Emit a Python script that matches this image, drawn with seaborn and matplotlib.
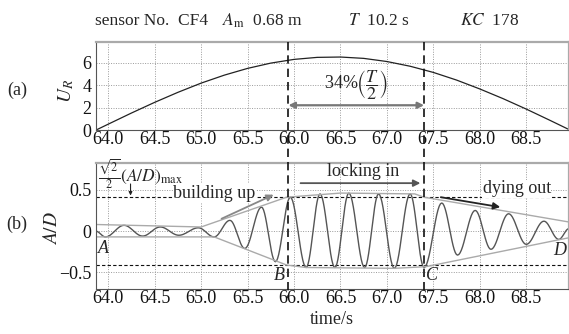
import numpy as np
import pandas as pd
import matplotlib
matplotlib.use("Agg")
import matplotlib.pyplot as plt
import seaborn as sns
from matplotlib.lines import Line2D
from matplotlib.transforms import blended_transform_factory

# ---------------- data ----------------
# (a) reduced velocity U_R over time
ur_time = [63.87, 63.9, 64.0, 64.25, 64.5, 64.75, 65.0, 65.25, 65.5, 65.75, 66.0,
           66.25, 66.5, 66.75, 67.0, 67.25, 67.5, 67.75, 68.0, 68.25, 68.5,
           68.75, 68.97]
ur_value = [0.0, 0.12, 0.52, 1.51, 2.46, 3.35, 4.17, 4.88, 5.48, 5.95, 6.28,
            6.46, 6.49, 6.37, 6.09, 5.67, 5.12, 4.44, 3.65, 2.79, 1.86,
            0.88, 0.0]

# (b) A/D response: successive peaks and troughs
ad_time = [63.865, 63.97, 64.17, 64.37, 64.56, 64.76, 64.97, 65.14, 65.31, 65.47,
           65.65, 65.80, 65.96, 66.13, 66.28, 66.44, 66.59, 66.76, 66.91, 67.08,
           67.25, 67.40, 67.59, 67.76, 67.95, 68.12, 68.31, 68.50, 68.69, 68.85,
           68.96]
ad_value = [0.00, -0.07, 0.07, -0.06, 0.05, -0.05, 0.04, -0.07, 0.13, -0.21,
            0.29, -0.37, 0.41, -0.44, 0.45, -0.44, 0.46, -0.44, 0.45, -0.45,
            0.45, -0.44, 0.34, -0.29, 0.25, -0.22, 0.21, -0.16, 0.12, -0.10,
            0.03]

# envelopes
env_up_time = [63.865, 65.0, 65.92, 66.5, 67.3, 67.40, 68.96]
env_up_value = [0.08, 0.05, 0.41, 0.46, 0.45, 0.41, 0.11]
env_lo_time = [63.865, 65.14, 65.92, 66.13, 67.08, 67.42, 68.96]
env_lo_value = [-0.07, -0.07, -0.41, -0.44, -0.45, -0.43, -0.08]

phase_bounds = [65.94, 67.40]          # B and C instants
level_sqrt2 = 0.41                     # sqrt(2)/2 (A/D)max

ur_ticks = [0, 2, 4, 6]
ad_ticks = [-0.5, 0, 0.5]
ad_ticklabels = ["\u22120.5", "0", "0.5"]
time_ticks = [64.0, 64.5, 65.0, 65.5, 66.0, 66.5, 67.0, 67.5, 68.0, 68.5]

# ---------------- styling ----------------
sns.set_theme(style="white")
plt.rcParams["font.family"] = ["Liberation Serif", "DejaVu Serif"]
plt.rcParams["mathtext.fontset"] = "stix"

W, H = 569, 334
fig = plt.figure(figsize=(W / 100, H / 100), dpi=100)


def fx(px):
    return px / W


def fy(py):
    return 1 - py / H


xl = (63.865, 68.96)
ax1 = fig.add_axes([fx(95.7), fy(130), fx(569 - 95.7), (130 - 42.3) / H])
ax2 = fig.add_axes([fx(95.7), fy(289), fx(569 - 95.7), (289 - 163.3) / H])


def smooth_through(t, v, n=14):
    xs, ys = [], []
    for i in range(len(t) - 1):
        f = np.linspace(0, 1, n, endpoint=False)
        xs.append(t[i] + (t[i + 1] - t[i]) * f)
        ys.append(v[i] + (v[i + 1] - v[i]) * (1 - np.cos(np.pi * f)) / 2)
    xs.append([t[-1]])
    ys.append([v[-1]])
    return np.concatenate(xs), np.concatenate(ys)


grid_kw = dict(color="#9a9a9a", lw=0.7, ls=(0, (1, 1.5)), zorder=0)
FS = 13

# ---- panel (a) ----
df_ur = pd.DataFrame({"t": ur_time, "U": ur_value})
sns.lineplot(data=df_ur, x="t", y="U", ax=ax1, color="#222222", lw=0.9,
             estimator=None, sort=False)
ax1.set_xlim(*xl)
ax1.set_ylim(0, 7.8)
ax1.set_xticks(time_ticks)
ax1.set_xticklabels([f"{v:.1f}" for v in time_ticks])
ax1.set_yticks(ur_ticks)
for v in time_ticks:
    ax1.axvline(v, **grid_kw)
for v in ur_ticks[1:]:
    ax1.axhline(v, **grid_kw)
ax1.set_xlabel("")
ax1.set_ylabel("")
ax1.annotate("", xy=(phase_bounds[0], 2.2), xytext=(phase_bounds[1], 2.2),
             arrowprops=dict(arrowstyle="<|-|>", color="#777777", lw=1.6,
                             mutation_scale=9, shrinkA=0, shrinkB=0))
ax1.text(66.66, 4.0, r"34%$\left(\dfrac{T}{2}\right)$", ha="center",
         va="center", fontsize=FS)

# ---- panel (b) ----
sx, sy = smooth_through(ad_time, ad_value)
df_ad = pd.DataFrame({"t": sx, "AD": sy})
sns.lineplot(data=df_ad, x="t", y="AD", ax=ax2, color="#555555", lw=1.0,
             estimator=None, sort=False)
df_up = pd.DataFrame({"t": env_up_time, "v": env_up_value})
df_lo = pd.DataFrame({"t": env_lo_time, "v": env_lo_value})
sns.lineplot(data=df_up, x="t", y="v", ax=ax2, color="#aaaaaa", lw=1.0,
             estimator=None, sort=False)
sns.lineplot(data=df_lo, x="t", y="v", ax=ax2, color="#aaaaaa", lw=1.0,
             estimator=None, sort=False)
ax2.set_xlim(*xl)
ax2.set_ylim(-0.70, 0.82)
ax2.set_xticks(time_ticks)
ax2.set_xticklabels([f"{v:.1f}" for v in time_ticks])
ax2.set_yticks(ad_ticks)
ax2.set_yticklabels(ad_ticklabels)
for v in time_ticks:
    ax2.axvline(v, **grid_kw)
for v in ad_ticks:
    ax2.axhline(v, **grid_kw)
for v in (level_sqrt2, -level_sqrt2):
    ax2.axhline(v, color="#111111", lw=0.8, ls=(0, (3, 2)), zorder=1)
ax2.set_xlabel("")
ax2.set_ylabel("")

ax2.text(66.74, 0.72, "locking in", ha="center", va="center", fontsize=FS)
ax2.annotate("", xy=(67.36, 0.58), xytext=(66.07, 0.58),
             arrowprops=dict(arrowstyle="-|>", color="#555555", lw=1.3,
                             mutation_scale=10, shrinkA=0, shrinkB=0))
ax2.text(65.14, 0.46, "building up", ha="center", va="center", fontsize=FS,
         bbox=dict(facecolor="white", edgecolor="none", pad=0.2))
ax2.annotate("", xy=(65.78, 0.44), xytext=(65.22, 0.15),
             arrowprops=dict(arrowstyle="-|>", color="#888888", lw=1.3,
                             mutation_scale=10, shrinkA=0, shrinkB=0))
ax2.text(68.40, 0.51, "dying out", ha="center", va="center", fontsize=FS,
         bbox=dict(facecolor="white", edgecolor="none", pad=0.2))
ax2.annotate("", xy=(68.22, 0.29), xytext=(67.58, 0.41),
             arrowprops=dict(arrowstyle="-|>", color="#222222", lw=1.3,
                             mutation_scale=10, shrinkA=0, shrinkB=0))
ax2.text(63.89, 0.69, r"$\frac{\sqrt{2}}{2}(A/D)_{\rm max}$", ha="left",
         va="center", fontsize=12.5)
ax2.annotate("", xy=(64.24, 0.43), xytext=(64.24, 0.57),
             arrowprops=dict(arrowstyle="-|>", color="#222222", lw=0.8,
                             mutation_scale=5, shrinkA=0, shrinkB=0))
for lab, t, v in [("A", 63.95, -0.21), ("B", 65.84, -0.54),
                  ("C", 67.49, -0.54), ("D", 68.86, -0.24)]:
    ax2.text(t, v, lab, ha="center", va="center", fontsize=FS,
             style="italic")

for ax in (ax1, ax2):
    ax.tick_params(axis="x", labelsize=13, length=0, pad=0.5,
                   colors="#111111")
    ax.tick_params(axis="y", labelsize=13, length=0, pad=3,
                   colors="#111111")
    for s in ("left", "bottom"):
        ax.spines[s].set_color("#555555")
        ax.spines[s].set_linewidth(0.8)
    for s in ("top", "right"):
        ax.spines[s].set_color("#aaaaaa")
        ax.spines[s].set_linewidth(1.6)

# vertical dashed lines spanning both panels
trans = blended_transform_factory(ax1.transData, fig.transFigure)
for t in phase_bounds:
    fig.add_artist(Line2D([t, t], [fy(42.3), fy(298)], transform=trans,
                          color="#111111", lw=1.2, ls=(0, (5, 3))))

# figure-level text
TY = 21
fig.text(fx(95), fy(TY), "sensor No.  CF4", ha="left", va="center",
         fontsize=12.5)
fig.text(fx(222), fy(TY), r"$A_{\rm m}$  0.68 m", ha="left", va="center",
         fontsize=12.5)
fig.text(fx(348), fy(TY), r"$T$  10.2 s", ha="left", va="center",
         fontsize=12.5)
fig.text(fx(460), fy(TY), r"$KC$  178", ha="left", va="center",
         fontsize=12.5)
fig.text(fx(17), fy(90), "(a)", ha="center", va="center", fontsize=FS)
fig.text(fx(17), fy(224), "(b)", ha="center", va="center", fontsize=FS)
fig.text(fx(66), fy(91), r"$U_R$", ha="center", va="center", fontsize=14,
         rotation=90)
fig.text(fx(52), fy(228), r"$A/D$", ha="center", va="center", fontsize=14,
         rotation=90)
fig.text(fx(332), fy(320), "time/s", ha="center", va="center", fontsize=FS)

fig.savefig("out.png", dpi=100)
